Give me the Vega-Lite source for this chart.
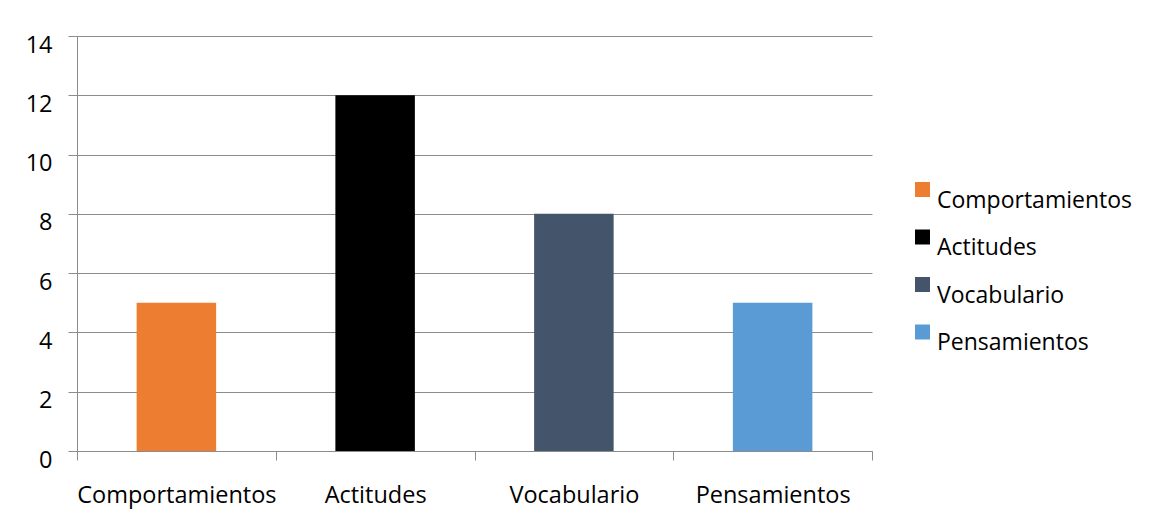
{
  "$schema": "https://vega.github.io/schema/vega-lite/v6.json",
  "width": 795,
  "height": 415,
  "autosize": {"type": "none"},
  "padding": {"left": 77, "top": 36, "right": 289, "bottom": 65},
  "background": "white",
  "config": {
    "view": {"stroke": null},
    "font": "Open Sans"
  },
  "data": {
    "values": [
      {"categoria": "Comportamientos", "valor": 5},
      {"categoria": "Actitudes", "valor": 12},
      {"categoria": "Vocabulario", "valor": 8},
      {"categoria": "Pensamientos", "valor": 5}
    ]
  },
  "mark": {"type": "bar", "width": {"band": 0.4}},
  "encoding": {
    "x": {
      "field": "categoria",
      "type": "nominal",
      "sort": null,
      "scale": {"paddingInner": 0, "paddingOuter": 0},
      "axis": {
        "title": null,
        "labelAngle": 0,
        "labelFont": "Open Sans",
        "labelFontSize": 23.5,
        "labelColor": "#000000",
        "labelPadding": 23,
        "labelLimit": 400,
        "domainColor": "#8c8c8c",
        "tickColor": "#8c8c8c",
        "tickBand": "extent",
        "tickSize": 9,
        "grid": false
      }
    },
    "y": {
      "field": "valor",
      "type": "quantitative",
      "scale": {"domain": [0, 14], "nice": false},
      "axis": {
        "title": null,
        "values": [0, 2, 4, 6, 8, 10, 12, 14],
        "labelFont": "Open Sans",
        "labelFontSize": 23.5,
        "labelColor": "#000000",
        "labelPadding": 16,
        "labelOffset": 9,
        "tickSize": 9,
        "tickColor": "#8c8c8c",
        "domainColor": "#8c8c8c",
        "gridColor": "#8c8c8c",
        "grid": true
      }
    },
    "color": {
      "field": "categoria",
      "type": "nominal",
      "sort": null,
      "scale": {
        "domain": ["Comportamientos", "Actitudes", "Vocabulario", "Pensamientos"],
        "range": ["#ED7D31", "#000000", "#44546A", "#5B9BD5"]
      },
      "legend": {
        "title": null,
        "orient": "none",
        "legendX": 834,
        "legendY": 142,
        "symbolType": "square",
        "symbolSize": 225,
        "symbolStrokeWidth": 0,
        "labelFont": "Open Sans",
        "labelFontSize": 23,
        "labelColor": "#000000",
        "labelBaseline": "top",
        "labelOffset": 3,
        "labelLimit": 400,
        "rowPadding": 12.5
      }
    }
  }
}
